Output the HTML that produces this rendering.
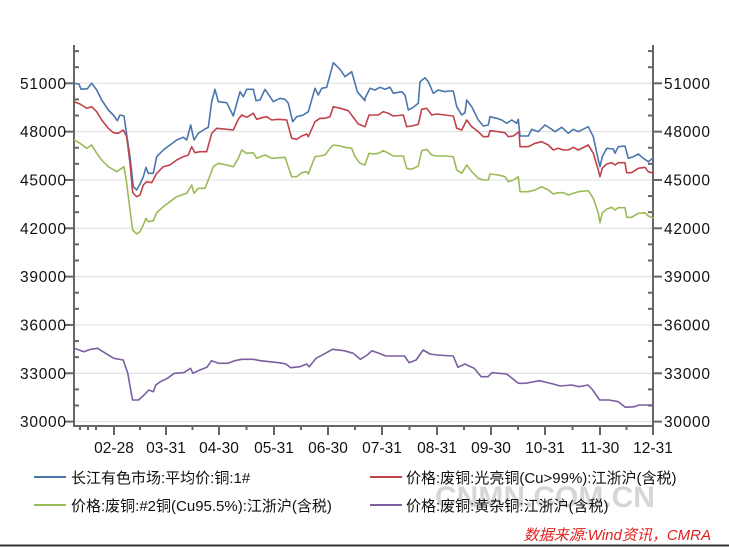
<!DOCTYPE html>
<html><head><meta charset="utf-8"><style>
body{margin:0;background:#fff;}
svg{display:block;}
text{font-family:"Liberation Sans","Noto Sans CJK SC",sans-serif;}
</style></head><body>
<svg id="s" width="729" height="547" xmlns="http://www.w3.org/2000/svg">
<rect width="729" height="547" fill="#fff"/>
<g id="grid"></g>
<g id="axes" stroke="#666" stroke-width="2" fill="none"></g>
<g id="lines" fill="none" stroke-width="1.6" stroke-linejoin="round"></g>
<g id="labels" font-size="15.5" fill="#111"></g>
<text x="545" y="507" font-size="30" fill="#ccc" text-anchor="middle" font-weight="bold" opacity="0.8">CNMN.COM.CN</text>
<g font-size="15" fill="#111">
<line x1="34" y1="477" x2="66" y2="477" stroke="#4a76ad" stroke-width="2"/>
<text x="71" y="483">长江有色市场:平均价:铜:1#</text>
<line x1="370" y1="477" x2="402" y2="477" stroke="#c0424b" stroke-width="2"/>
<text x="406" y="483">价格:废铜:光亮铜(Cu&gt;99%):江浙沪(含税)</text>
<line x1="34" y1="505" x2="66" y2="505" stroke="#9bbb59" stroke-width="2"/>
<text x="71" y="511">价格:废铜:#2铜(Cu95.5%):江浙沪(含税)</text>
<line x1="370" y1="505" x2="402" y2="505" stroke="#7b5fa0" stroke-width="2"/>
<text x="406" y="511">价格:废铜:黄杂铜:江浙沪(含税)</text>
</g>
<text x="711" y="540" font-size="15" fill="#e02020" font-style="italic" text-anchor="end">数据来源:Wind资讯，CMRA</text>
<line x1="0" y1="545.5" x2="729" y2="545.5" stroke="#333" stroke-width="2"/>
</svg>
<script>
var NS="http://www.w3.org/2000/svg";
function el(p,t,a,txt){var e=document.createElementNS(NS,t);for(var k in a)e.setAttribute(k,a[k]);if(txt)e.textContent=txt;p.appendChild(e);return e;}
function Y(v){return 83.3+(51000-v)*48.33/3000;}
var G=document.getElementById('grid'),A=document.getElementById('axes'),L=document.getElementById('labels'),LN=document.getElementById('lines');
for(var v=30000;v<=51000;v+=3000){var y=Y(v);
 el(G,'line',{x1:75,x2:653,y1:y,y2:y,stroke:'#ddd','stroke-width':1});
 el(A,'line',{x1:65,x2:74,y1:y,y2:y});el(A,'line',{x1:653,x2:662,y1:y,y2:y});
 el(L,'text',{x:20,y:y+5.5,textLength:46},String(v));
 el(L,'text',{x:664,y:y+5.5,textLength:46},String(v));}
for(var v=30000;v<=53000;v+=1000){if(v%3000==0)continue;var y=Y(v);
 el(A,'line',{x1:74,x2:79,y1:y,y2:y});el(A,'line',{x1:648,x2:653,y1:y,y2:y});}
el(A,'line',{x1:74,x2:74,y1:45,y2:427});el(A,'line',{x1:653,x2:653,y1:45,y2:427});
el(A,'line',{x1:73,x2:654,y1:426,y2:426});
var mx=[114,166,219,274,328,382,437,491,545,600,653],ml=['02-28','03-31','04-30','05-31','06-30','07-31','08-31','09-30','10-31','11-30','12-31'];
var prev=62;
for(var i=0;i<mx.length;i++){el(A,'line',{x1:mx[i],x2:mx[i],y1:426,y2:435});
 var mid=(prev+mx[i])/2;el(A,'line',{x1:mid,x2:mid,y1:426,y2:430});prev=mx[i];
 el(L,'text',{x:mx[i],y:453,'text-anchor':'middle'},ml[i]);}
el(A,'line',{x1:80,x2:80,y1:426,y2:430});el(A,'line',{x1:96,x2:96,y1:426,y2:430});
function pts(a,sx,ox,sy,oy){var r=[];for(var i=0;i<a.length;i+=2)r.push((a[i]/sx+ox).toFixed(1)+','+(a[i+1]/sy+oy).toFixed(1));return r;}
function series(a1,a2,col){var p=pts(a1,3,0,3,30).concat(pts(a2,3,365,3,30));el(LN,'polyline',{points:p.join(' '),stroke:col});}
series([222,160,237,162,243,178,262,176,275,160,290,180,305,210,325,240,340,255,352,272,360,255,372,258,378,300,390,380,400,470,410,480,420,462,430,440,438,412,445,430,460,430,470,380,490,360,510,345,530,330,550,322,560,330,572,285,582,330,595,310,615,297,625,292,635,215,645,178,655,215,680,218,700,258,720,185,730,200,740,178,760,178,768,212,780,210,795,178,810,200,820,215,840,205,855,208,865,220,878,275,890,260,910,255,925,245,945,175,955,195,965,175,980,172,1000,98,1020,118,1035,140,1055,125,1065,160,1072,185,1095,212],
[0,205,15,175,30,180,45,172,60,178,75,172,85,190,110,185,120,195,130,240,145,232,160,220,165,155,180,143,190,155,205,190,220,180,240,185,250,183,265,183,275,230,290,255,300,248,305,210,320,230,340,270,355,288,370,285,375,260,395,265,410,270,425,280,440,270,455,280,460,268,465,318,490,318,500,298,520,305,540,285,560,298,570,305,590,292,610,310,625,298,640,305,670,290,685,320,700,390,705,410,712,380,725,355,745,357,750,370,760,350,780,348,790,385,805,380,820,372,835,385,850,395,863,385,866,380],'#4a76ad');
series([222,215,240,222,260,235,275,230,290,245,305,270,325,295,340,308,355,310,370,300,380,320,390,400,398,488,410,500,420,495,430,465,440,455,455,458,470,430,490,410,510,405,530,390,550,380,565,375,575,350,585,368,600,365,620,365,635,310,650,295,680,298,700,300,715,268,725,255,740,262,760,250,770,268,790,262,800,260,815,270,835,268,860,270,875,325,890,328,905,318,920,312,925,320,945,275,960,265,975,265,990,260,1000,230,1025,236,1045,242,1060,262,1075,282,1095,290],
[0,290,12,255,25,255,40,255,55,245,70,250,85,258,115,255,125,290,140,288,160,283,170,238,185,235,200,255,215,252,240,255,265,258,275,295,290,300,305,270,320,290,340,305,355,320,370,320,375,302,400,305,420,308,430,320,445,318,462,305,465,350,490,350,510,340,530,335,550,345,565,360,580,355,595,360,610,360,625,352,640,360,670,345,685,370,700,420,705,440,712,415,725,402,740,398,750,405,760,398,780,398,785,428,800,428,820,415,840,412,850,425,866,430],'#c0424b');
series([222,330,240,340,260,355,275,345,290,370,305,390,325,410,350,425,372,410,380,460,390,540,398,600,410,612,420,605,430,585,438,565,445,575,460,572,470,548,490,530,510,515,530,500,560,490,575,465,582,490,595,475,615,475,625,450,640,410,655,400,680,405,700,410,715,385,725,360,740,370,760,368,770,385,795,375,815,385,855,382,875,440,890,440,905,428,920,425,925,432,945,380,960,378,975,375,990,355,1000,345,1020,348,1035,352,1055,355,1065,380,1080,400,1095,405],
[0,405,12,370,25,372,40,370,55,362,75,372,85,378,115,378,125,415,140,418,160,408,170,362,185,358,200,375,215,378,240,378,265,380,275,420,290,430,305,405,320,425,340,445,355,450,370,450,375,432,400,435,420,440,430,455,445,450,460,440,465,485,490,485,510,480,530,470,550,480,565,492,580,488,595,488,610,495,625,490,640,485,670,482,685,505,700,550,705,578,712,548,725,538,740,532,750,540,760,533,780,533,785,562,800,562,820,550,840,548,850,558,866,565],'#9bbb59');
var pu=[160,55,180,65,195,58,210,55,225,68,245,85,265,90,275,130,285,210,298,210,310,195,320,180,330,185,335,165,345,155,360,145,375,130,395,128,410,115,415,130,430,120,445,112,455,92,470,100,490,100,505,92,520,88,545,88,560,92,580,95,600,98,615,102,625,113,645,110,660,102,665,110,680,85,700,70,715,58,740,62,760,70,775,88,790,75,800,62,815,70,830,78,870,78,880,98,895,90,910,60,925,72,940,75,975,78,985,112,1000,102,1020,115,1035,140,1050,140,1058,128,1090,132,1115,160,1130,160,1160,152,1190,162,1205,168,1230,165,1245,170,1265,165,1275,180,1290,210,1310,210,1330,215,1345,232,1365,230,1375,225,1405,225];
el(LN,'polyline',{points:pts(pu,2.151,0,3,330).join(' '),stroke:'#7b5fa0'});
</script>
</body></html>
